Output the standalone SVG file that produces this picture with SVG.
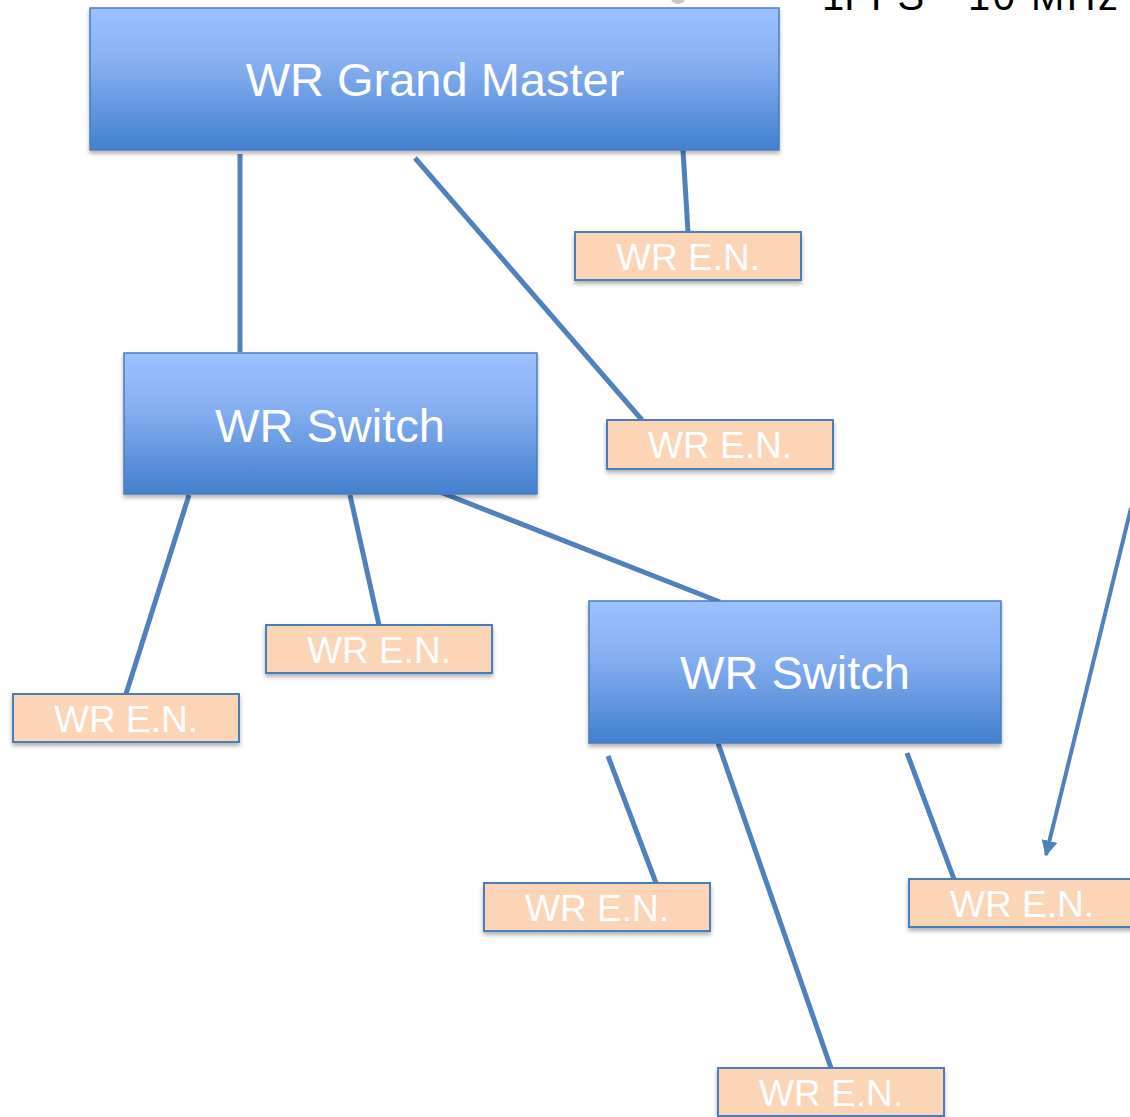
<svg xmlns="http://www.w3.org/2000/svg" width="1130" height="1117" viewBox="0 0 1130 1117">
<style>
.sw{stroke:#4A7EBB;stroke-width:1.5;fill:url(#blue);filter:url(#sh)}
.en{stroke:#4A7EBB;stroke-width:2;fill:#FBD5B5;filter:url(#sh)}
.conn line{stroke:#4F81BD;stroke-width:5;fill:none}
.big{font-family:"Liberation Sans",Arial,sans-serif;font-size:47px;fill:#fff;text-anchor:middle}
.small{font-family:"Liberation Sans",Arial,sans-serif;font-size:37px;fill:#fff;text-anchor:middle}
.lbl{font-family:"Liberation Sans",Arial,sans-serif;font-size:40px;fill:#000}
</style>
<defs>
<linearGradient id="blue" x1="0" y1="0" x2="0" y2="1">
<stop offset="0" stop-color="#9BC1FE"/>
<stop offset="0.35" stop-color="#8AB2F3"/>
<stop offset="1" stop-color="#4380CE"/>
</linearGradient>
<filter id="sh" x="-5%" y="-10%" width="110%" height="130%">
<feDropShadow dx="0" dy="3" stdDeviation="2" flood-color="#000" flood-opacity="0.3"/>
</filter>
<marker id="ah" viewBox="0 0 10 10" refX="9" refY="5" markerWidth="4" markerHeight="4" orient="auto" markerUnits="strokeWidth">
<path d="M0,0 L10,5 L0,10 z" fill="#4F81BD"/>
</marker>
</defs>
<rect width="1130" height="1117" fill="#fff"/>
<circle cx="678" cy="-4" r="8" fill="#c8c8c8"/>
<text class="lbl" x="822" y="10">1PPS</text>
<text class="lbl" x="968" y="10" textLength="150">10 MHz</text>
<g class="conn">
<line x1="240" y1="154" x2="240" y2="352"/>
<line x1="415" y1="158" x2="642" y2="420"/>
<line x1="683" y1="150" x2="688" y2="232"/>
<line x1="189" y1="495" x2="126" y2="694"/>
<line x1="350" y1="495" x2="379" y2="625"/>
<line x1="440" y1="492" x2="720" y2="602"/>
<line x1="608" y1="756" x2="656" y2="883"/>
<line x1="718" y1="743" x2="831" y2="1068"/>
<line x1="907" y1="753" x2="954" y2="879"/>
<line x1="1131" y1="508" x2="1046" y2="855" style="stroke-width:4" marker-end="url(#ah)"/>
</g>
<g id="gm"><rect class="sw" x="90" y="8" width="689" height="142"/><text class="big" x="435" y="96">WR Grand Master</text></g>
<g id="sw1"><rect class="sw" x="124" y="353" width="413" height="141"/><text class="big" x="330" y="442">WR Switch</text></g>
<g id="sw2"><rect class="sw" x="589" y="601" width="412" height="142"/><text class="big" x="795" y="689">WR Switch</text></g>
<g id="en1"><rect class="en" x="575" y="232" width="226" height="48"/><text class="small" x="688" y="270">WR E.N.</text></g>
<g id="en2"><rect class="en" x="607" y="420" width="226" height="49"/><text class="small" x="720" y="458">WR E.N.</text></g>
<g id="en3"><rect class="en" x="266" y="625" width="226" height="48"/><text class="small" x="379" y="663">WR E.N.</text></g>
<g id="en4"><rect class="en" x="13" y="694" width="226" height="48"/><text class="small" x="126" y="732">WR E.N.</text></g>
<g id="en5"><rect class="en" x="484" y="883" width="226" height="48"/><text class="small" x="597" y="921">WR E.N.</text></g>
<g id="en6"><rect class="en" x="909" y="879" width="226" height="48"/><text class="small" x="1022" y="917">WR E.N.</text></g>
<g id="en7"><rect class="en" x="718" y="1068" width="226" height="48"/><text class="small" x="831" y="1106">WR E.N.</text></g>
</svg>
